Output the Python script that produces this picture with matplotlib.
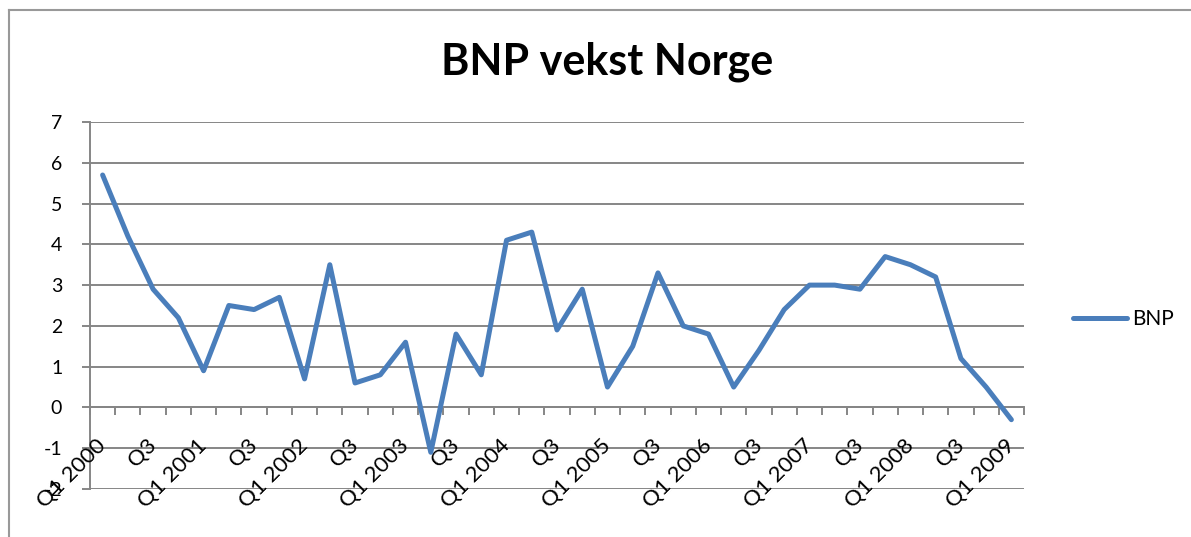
import matplotlib
matplotlib.use("Agg")
import matplotlib.pyplot as plt
import matplotlib.transforms as mtransforms
from matplotlib.ticker import FixedLocator, NullFormatter, NullLocator
from matplotlib.lines import Line2D

plt.rcParams['font.family'] = 'Lato'

# ---- data ----
title = "BNP vekst Norge"
series_name = "BNP"
years = list(range(2000, 2010))
quarters = [f"Q{q} {y}" for y in years for q in (1, 2, 3, 4)][:37]
bnp = [5.7, 4.2, 2.9, 2.2, 0.9, 2.5, 2.4, 2.7, 0.7, 3.5, 0.6, 0.8, 1.6, -1.1,
       1.8, 0.8, 4.1, 4.3, 1.9, 2.9, 0.5, 1.5, 3.3, 2.0, 1.8, 0.5, 1.4, 2.4,
       3.0, 3.0, 2.9, 3.7, 3.5, 3.2, 1.2, 0.5, -0.3]
tick_labels = [lab if lab.startswith("Q1") else lab.split()[0]
               for lab in quarters[::2]]
y_ticks = list(range(-2, 8))

W, H = 1191, 537
fig = plt.figure(figsize=(W / 100, H / 100), dpi=100)
fig.patch.set_facecolor('white')

ax = fig.add_axes([90 / W, 1 - 489 / H, (1024 - 90) / W, (489 - 122) / H])
n = len(bnp)
xs = list(range(n))
line_color = '#4A7EBB'
grid_color = '#868686'
fs = 14
xfs = 16

ax.plot(xs, bnp, color=line_color, lw=3.6, solid_joinstyle='round',
        solid_capstyle='round', zorder=5, clip_on=False)

ax.set_xlim(-0.5, n - 0.5)
ax.set_ylim(-2, 7)
ax.set_yticks(y_ticks)
ax.set_yticklabels([str(v) for v in y_ticks])
ax.yaxis.grid(True, color=grid_color, lw=1.4)
ax.set_axisbelow(True)

for s in ('top', 'right'):
    ax.spines[s].set_visible(False)
ax.spines['left'].set_color(grid_color)
ax.spines['left'].set_linewidth(1.4)
ax.spines['bottom'].set_position(('data', 0))
ax.spines['bottom'].set_color(grid_color)
ax.spines['bottom'].set_linewidth(1.4)

ax.tick_params(axis='y', length=6, width=1.4, color=grid_color,
               labelsize=fs, pad=14, labelcolor='black')

ax.xaxis.set_major_locator(NullLocator())
ax.xaxis.set_minor_locator(FixedLocator([i - 0.5 for i in range(n + 1)]))
ax.xaxis.set_minor_formatter(NullFormatter())
ax.tick_params(axis='x', which='minor', length=6, width=1.4, color=grid_color)

# category labels, rotated 45 degrees, hanging below the zero line
offset = mtransforms.ScaledTranslation(0 / 100, -35 / 100, fig.dpi_scale_trans)
for x, lab in zip(xs[::2], tick_labels):
    ax.text(x, 0, lab, rotation=45, rotation_mode='anchor',
            ha='right', va='center', fontsize=xfs, clip_on=False,
            transform=ax.transData + offset)

# title
fig.text(607 / W, 1 - 62 / H, title, ha='center', va='center',
         fontsize=31, fontweight='bold')

# legend
handle = Line2D([], [], color=line_color, lw=3.6, solid_capstyle='round')
fig.legend([handle], [series_name], loc='center left',
           bbox_to_anchor=(1073 / W, 1 - 319 / H), frameon=False,
           borderpad=0, borderaxespad=0, handlelength=2.6,
           handletextpad=0.25, fontsize=15)

# outer chart frame (top and left visible)
fig.add_artist(Line2D([9 / W, 1], [1 - 10 / H, 1 - 10 / H],
                      color='#999999', lw=1.5, transform=fig.transFigure))
fig.add_artist(Line2D([9 / W, 9 / W], [0, 1 - 10 / H],
                      color='#999999', lw=1.5, transform=fig.transFigure))

fig.savefig('out.png', dpi=100)
